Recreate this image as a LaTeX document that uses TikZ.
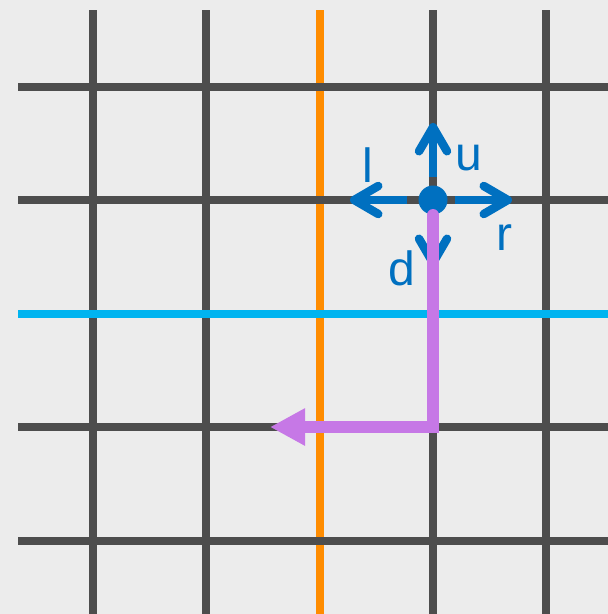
\documentclass[tikz,border=0pt]{standalone}
\usepackage{fontspec}
\setmainfont{Liberation Sans}
\usetikzlibrary{arrows.meta}
\definecolor{bgc}{HTML}{ECECEC}
\definecolor{gridc}{HTML}{4D4D4D}
\definecolor{orangec}{HTML}{FF8C00}
\definecolor{skyc}{HTML}{00B4F0}
\definecolor{bluec}{HTML}{0070C0}
\definecolor{purplec}{HTML}{C678E6}
\tikzset{
  gridline/.style={draw=gridc, line width=8pt},
  moveline/.style={draw=bluec, line width=8.5pt, -{Straight Barb[length=24pt,width=28pt,line width=8.5pt,round]}},
  pathline/.style={draw=purplec, line width=12pt, line cap=round, line join=miter, -{Triangle[length=35pt,width=35pt]}},
  lbl/.style={text=bluec, font=\fontsize{48}{48}\selectfont, inner sep=0pt, anchor=center}
}
\begin{document}
\begin{tikzpicture}[x=1pt,y=-1pt]
\fill[bgc] (0,0) rectangle (608,614);
\useasboundingbox (0,0) rectangle (608,614);
% vertical lines
\foreach \x in {93,206,433,546} \draw[gridline] (\x,10) -- (\x,614);
\draw[draw=orangec, line width=8pt] (320,10) -- (320,614);
% horizontal lines
\foreach \y in {87,200,427,541} \draw[gridline] (18,\y) -- (608,\y);
\draw[draw=skyc, line width=8pt] (18,314) -- (608,314);
% agent
\node[circle, fill=bluec, inner sep=0pt, minimum size=29pt] (dot) at (433,200) {};
\coordinate (us) at (433,177);
\coordinate (ut) at (433,123);
\coordinate (ls) at (407,200);
\coordinate (lt) at (350,200);
\coordinate (rs) at (455,200);
\coordinate (rt) at (512,200);
\coordinate (ds) at (433,223);
\coordinate (dt) at (433,267);
\draw[moveline] (us) -- (ut);
\draw[moveline] (ls) -- (lt);
\draw[moveline] (rs) -- (rt);
\draw[moveline] (ds) -- (dt);
% path
\coordinate (ps) at (433,215);
\coordinate (pc) at (433,427);
\coordinate (pe) at (270,427);
\draw[pathline] (ps) -- (pc) -- (pe);
% labels
\node[lbl] (lu) at (469,158) {u};
\node[lbl] (ll) at (368,165) {l};
\node[lbl] (lr) at (504,238) {r};
\node[lbl] (ld) at (402,268) {d};
\end{tikzpicture}
\end{document}
